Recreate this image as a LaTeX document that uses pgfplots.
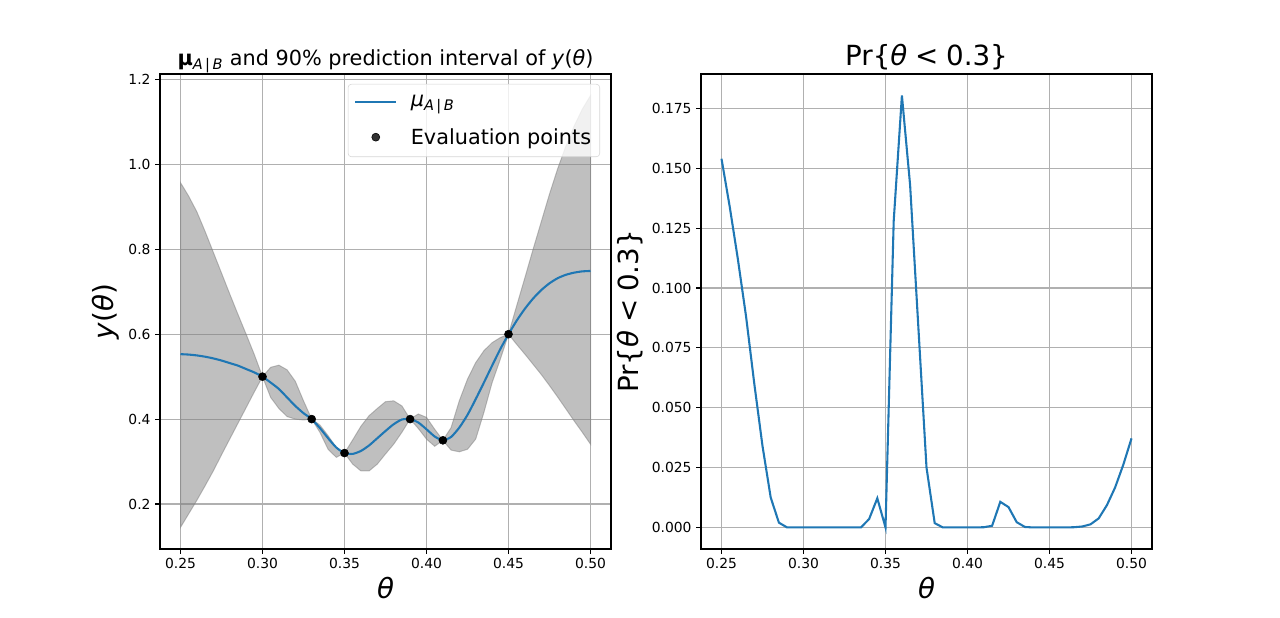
\documentclass[border=0pt]{standalone}
\usepackage{fontspec}
\setmainfont{DejaVu Sans}
\usepackage{pgfplots}
\usepackage{pgfplotstable}
\pgfplotsset{compat=1.18}
\definecolor{mplblue}{HTML}{1F77B4}
\definecolor{gridgray}{HTML}{B0B0B0}
\definecolor{legedge}{HTML}{D5D5D5}

\pgfplotstableread{
t m
0.250 0.553
0.255 0.552
0.260 0.550
0.265 0.547
0.270 0.543
0.275 0.538
0.280 0.532
0.285 0.526
0.290 0.518
0.295 0.510
0.300 0.500
0.305 0.486
0.310 0.471
0.315 0.451
0.320 0.431
0.325 0.414
0.330 0.400
0.335 0.379
0.340 0.355
0.345 0.333
0.350 0.320
0.355 0.318
0.360 0.325
0.365 0.338
0.370 0.355
0.375 0.372
0.380 0.388
0.385 0.399
0.390 0.400
0.395 0.392
0.400 0.376
0.405 0.359
0.410 0.350
0.415 0.358
0.420 0.380
0.425 0.410
0.430 0.447
0.435 0.486
0.440 0.526
0.445 0.565
0.450 0.600
0.455 0.632
0.460 0.660
0.465 0.684
0.470 0.704
0.475 0.720
0.480 0.732
0.485 0.740
0.490 0.745
0.495 0.748
0.500 0.749
}\meantab

% prediction band: upper edge left to right, then lower edge right to left
\pgfplotstableread{
t b
0.250 0.957
0.255 0.925
0.260 0.888
0.265 0.842
0.270 0.793
0.275 0.744
0.280 0.695
0.285 0.647
0.290 0.600
0.295 0.552
0.300 0.500
0.305 0.522
0.310 0.527
0.315 0.516
0.320 0.489
0.325 0.443
0.330 0.400
0.335 0.386
0.340 0.361
0.345 0.333
0.350 0.320
0.355 0.351
0.360 0.383
0.365 0.408
0.370 0.425
0.375 0.441
0.380 0.443
0.385 0.431
0.390 0.400
0.395 0.412
0.400 0.404
0.405 0.376
0.410 0.350
0.415 0.380
0.420 0.443
0.425 0.494
0.430 0.533
0.435 0.561
0.440 0.580
0.445 0.592
0.450 0.600
0.455 0.667
0.460 0.733
0.465 0.800
0.470 0.865
0.475 0.930
0.480 0.990
0.485 1.043
0.490 1.090
0.495 1.130
0.500 1.162
0.500 0.341
0.495 0.369
0.490 0.396
0.485 0.424
0.480 0.452
0.475 0.479
0.470 0.505
0.465 0.529
0.460 0.553
0.455 0.576
0.450 0.600
0.445 0.541
0.440 0.486
0.435 0.416
0.430 0.353
0.425 0.329
0.420 0.323
0.415 0.327
0.410 0.350
0.405 0.336
0.400 0.353
0.395 0.378
0.390 0.400
0.385 0.369
0.380 0.341
0.375 0.318
0.370 0.294
0.365 0.278
0.360 0.278
0.355 0.294
0.350 0.320
0.345 0.310
0.340 0.329
0.335 0.369
0.330 0.400
0.325 0.398
0.320 0.400
0.315 0.406
0.310 0.425
0.305 0.451
0.300 0.500
0.295 0.464
0.290 0.427
0.285 0.390
0.280 0.353
0.275 0.316
0.270 0.278
0.265 0.243
0.260 0.209
0.255 0.177
0.250 0.145
}\bandtab

\pgfplotstableread{
t y
0.30 0.50
0.33 0.40
0.35 0.32
0.39 0.40
0.41 0.35
0.45 0.60
}\evaltab

\pgfplotstableread{
t p
0.250 0.1540
0.255 0.1340
0.260 0.1120
0.265 0.0880
0.270 0.0600
0.275 0.0340
0.280 0.0125
0.285 0.0020
0.290 0.0000
0.295 0.0000
0.300 0.0000
0.305 0.0000
0.310 0.0000
0.315 0.0000
0.320 0.0000
0.325 0.0000
0.330 0.0000
0.335 0.0000
0.340 0.0035
0.345 0.0122
0.350 0.0000
0.355 0.1280
0.360 0.1804
0.365 0.1430
0.370 0.0840
0.375 0.0250
0.380 0.0018
0.385 0.0000
0.390 0.0000
0.395 0.0000
0.400 0.0000
0.405 0.0000
0.410 0.0001
0.415 0.0007
0.420 0.0107
0.425 0.0085
0.430 0.0022
0.435 0.0002
0.440 0.0000
0.445 0.0000
0.450 0.0000
0.455 0.0000
0.460 0.0000
0.465 0.0001
0.470 0.0004
0.475 0.0013
0.480 0.0038
0.485 0.0093
0.490 0.0167
0.495 0.0262
0.500 0.0372
}\probtab

\pgfplotsset{
  lineleg/.style={legend image code/.code={\draw[##1] (-2pt,0pt) -- (29pt,0pt); \path (37pt,0pt);}},
  markleg/.style={legend image code/.code={\draw[##1,mark repeat=2,mark phase=2] plot coordinates {(-2pt,0pt) (13.5pt,0pt) (29pt,0pt)}; \path (37pt,0pt);}},
  every axis title shift=0pt,
  mplaxis/.style={
    scale only axis, width=338.25pt, height=356.25pt,
    anchor=south west,
    xmin=0.2375, xmax=0.5125,
    xtick={0.25,0.30,0.35,0.40,0.45,0.50},
    xticklabels={0.25,0.30,0.35,0.40,0.45,0.50},
    grid=major,
    major grid style={draw=gridgray, line width=0.83pt},
    tick align=outside, tick pos=left,
    major tick length=3.6pt,
    tick style={black, line width=0.83pt},
    axis line style={line width=0.83pt},
    ticklabel style={font=\fontsize{10.4}{12.5}\selectfont},
    /pgf/number format/assume math mode=true,
    xlabel style={at={(axis description cs:0.5,-0.058)}, anchor=north, inner sep=0pt, font=\fontsize{20.8}{25}\selectfont},
    title style={at={(axis description cs:0.5,1)}, anchor=base, yshift=6.5pt, inner sep=0pt},
  }
}

\begin{document}
\begin{tikzpicture}
\path[use as bounding box] (0,0) rectangle (960pt,462.75pt);

\begin{axis}[mplaxis, at={(120pt,51pt)},
  ymin=0.094, ymax=1.213,
  ytick={0.2,0.4,0.6,0.8,1.0,1.2},
  yticklabels={0.2,0.4,0.6,0.8,1.0,1.2},
  xlabel={\textit{θ}},
  ylabel={\textit{y}(\textit{θ})},
  ylabel style={at={(axis description cs:-0.0887,0.5)}, anchor=south, inner sep=0pt, font=\fontsize{20.8}{25}\selectfont},
  title={\textbf{μ}\textsubscript{\textit{A}\,|\,\textit{B}} and 90\% prediction interval of \textit{y}(\textit{θ})},
  title style={font=\fontsize{15.6}{18}\selectfont},
  legend style={at={(axis description cs:0.9756,0.979)}, anchor=north east,
    draw=legedge, rounded corners=2.5pt, fill=white, fill opacity=0.8, text opacity=1,
    font=\fontsize{15.6}{18}\selectfont, inner xsep=4.5pt, inner ysep=6pt, row sep=11pt},
  legend cell align=left,
]
\addplot[fill=gray, fill opacity=0.5, draw=gray, draw opacity=0.5, line width=0.75pt, forget plot] table[x=t, y=b] {\bandtab} -- cycle;
\addplot[mplblue, line width=1.56pt, smooth, tension=0.4, lineleg] table[x=t, y=m] {\meantab};
\addlegendentry{\textit{μ}\textsubscript{\textit{A}\,|\,\textit{B}}}
\addplot[only marks, mark=*, mark size=3pt, black, markleg] table[x=t, y=y] {\evaltab};
\addlegendentry{Evaluation points}
\end{axis}

\begin{axis}[mplaxis, at={(525.75pt,51pt)},
  ymin=-0.009, ymax=0.1894,
  ytick={0,0.025,0.05,0.075,0.1,0.125,0.15,0.175},
  yticklabels={0.000,0.025,0.050,0.075,0.100,0.125,0.150,0.175},
  xlabel={\textit{θ}},
  ylabel={Pr\{\textit{θ}\hspace{0.28em}<\hspace{0.28em}0.3\}},
  ylabel style={at={(axis description cs:-0.1286,0.5)}, anchor=south, inner sep=0pt, font=\fontsize{20.8}{25}\selectfont},
  title={Pr\{\textit{θ}\hspace{0.28em}<\hspace{0.28em}0.3\}},
  title style={font=\fontsize{20.8}{25}\selectfont},
]
\addplot[mplblue, line width=1.56pt] table[x=t, y=p] {\probtab};
\end{axis}
\end{tikzpicture}
\end{document}
